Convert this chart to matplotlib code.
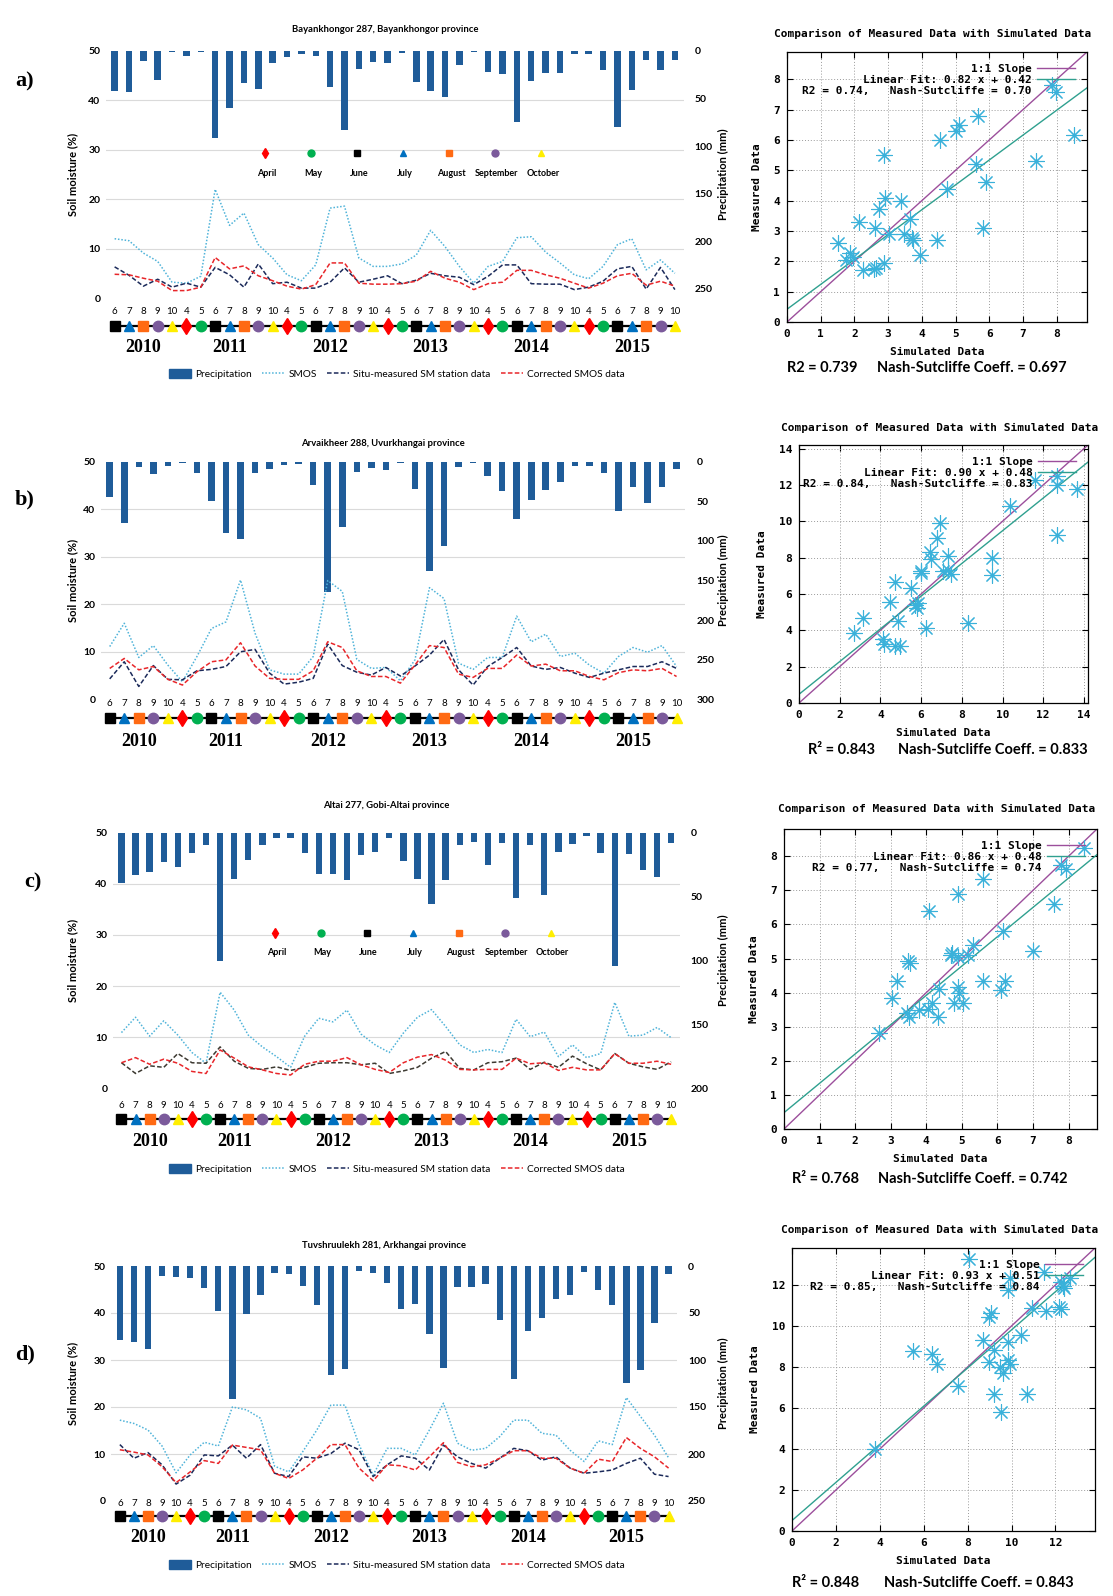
import numpy as np
import matplotlib
matplotlib.use("Agg")
import matplotlib.pyplot as plt
from matplotlib import transforms
from matplotlib.lines import Line2D
from matplotlib.patches import Patch

W, H = 1113, 1596

# ---- time axis: 2010 (Jun-Oct) + 2011..2015 (Apr-Oct) ----
months = [6, 7, 8, 9, 10] + [4, 5, 6, 7, 8, 9, 10] * 5
years = [2010, 2011, 2012, 2013, 2014, 2015]
year_of = [2010] * 5 + [y for y in years[1:] for _ in range(7)]
month_names = ["April", "May", "June", "July", "August", "September", "October"]

# ---- a) Bayankhongor 287 ----
precip_a = [42, 43, 10.5, 30, 1, 5.6, 1, 92, 60, 34, 40, 12.6, 6.3, 2.8, 5.6, 38, 83, 19, 11.6, 12.6,
            1.8, 32.6, 42.5, 48, 15, 0.7, 22, 24, 75, 32, 23.5, 23.5, 2.8, 3.5, 20, 80, 41, 9, 19.6, 9.8]
smos_a = [12.0, 11.6, 9.1, 7.4, 3.2, 3.0, 4.4, 22.0, 14.7, 17.2, 10.8, 8.1, 4.7, 3.5, 6.7, 18.2, 18.6, 8.1, 6.4, 6.4,
          6.9, 8.7, 13.7, 10.4, 6.4, 3.0, 6.4, 7.4, 12.2, 12.4, 9.3, 7.1, 4.7, 3.9, 6.4, 10.8, 12.0, 5.7, 7.7, 5.0]
situ_a = [6.3, 4.6, 2.4, 3.8, 2.2, 3.0, 2.2, 6.2, 4.7, 2.2, 6.9, 2.9, 3.2, 2.0, 2.0, 3.2, 6.1, 3.2, 3.8, 4.5,
          2.9, 3.6, 5.0, 4.5, 4.2, 2.7, 4.4, 6.7, 6.7, 2.9, 2.8, 2.8, 1.7, 2.2, 3.4, 5.9, 6.4, 1.8, 6.2, 1.7]
corr_a = [4.8, 4.7, 4.0, 3.4, 1.5, 1.5, 2.2, 8.2, 5.9, 6.5, 4.5, 3.5, 2.4, 1.8, 2.7, 7.1, 7.1, 3.0, 2.8, 2.8,
          2.9, 3.4, 5.4, 4.0, 3.2, 1.7, 2.9, 3.2, 5.6, 5.6, 4.7, 4.0, 3.0, 2.0, 3.0, 4.5, 5.0, 2.6, 3.4, 2.4]

# ---- b) Arvaikheer 288 ----
precip_b = [44, 77, 6.3, 16, 5, 2, 14, 50, 90, 98, 14, 9, 4, 3.4, 29.5, 165, 83, 12.6, 7.6, 10.5,
            1.3, 34.5, 138, 107, 6.3, 2, 17.7, 36.6, 72, 48, 36, 25, 5, 5, 14, 62, 32.4, 52, 31.6, 9]
smos_b = [11.1, 16.0, 8.8, 11.3, 7.2, 3.7, 9.0, 14.9, 16.3, 25.1, 13.9, 6.2, 5.3, 5.3, 9.0, 25.0, 22.7, 8.4, 6.5, 6.7,
          3.9, 8.3, 23.5, 21.2, 7.6, 6.3, 8.8, 8.8, 17.5, 12.1, 13.7, 9.0, 9.7, 7.2, 5.5, 9.0, 10.9, 9.9, 11.3, 6.9]
situ_b = [4.3, 7.9, 2.7, 7.1, 4.2, 4.1, 6.0, 6.3, 6.9, 10.0, 10.5, 5.5, 3.2, 3.6, 4.4, 11.6, 7.1, 5.7, 5.1, 6.7,
          4.9, 7.0, 9.3, 12.6, 6.2, 3.0, 6.9, 8.8, 10.9, 7.0, 6.3, 6.7, 5.5, 4.6, 5.5, 6.2, 6.9, 6.9, 7.9, 6.5]
corr_b = [6.5, 8.6, 6.2, 6.9, 4.2, 3.0, 5.8, 7.9, 8.3, 11.9, 7.0, 4.4, 4.2, 4.2, 6.0, 12.1, 10.9, 6.0, 4.8, 4.8,
          3.4, 7.2, 11.3, 10.9, 5.3, 4.6, 6.5, 6.5, 9.3, 7.0, 7.4, 6.0, 6.0, 4.8, 4.1, 5.6, 6.2, 6.0, 6.5, 4.8]

# ---- c) Altai 277 ----
precip_c = [39.6, 33, 30.5, 22.7, 27, 16, 9.6, 100, 36, 21.4, 10, 4, 4.4, 15.6, 32, 32, 37, 17.5, 15, 4,
            22, 36, 56, 37, 10, 7, 25, 7.8, 51, 10, 49, 15.4, 8.9, 2.6, 15.6, 104, 17, 29, 34.4, 8.3]
smos_c = [10.9, 13.9, 10.2, 13.2, 10.4, 7.0, 4.9, 18.8, 15.3, 10.4, 8.1, 6.2, 4.1, 10.2, 13.7, 13.0, 15.3, 10.6, 8.5, 7.0,
          10.8, 13.9, 15.4, 12.1, 8.5, 7.0, 7.6, 7.0, 13.5, 10.1, 11.0, 6.2, 8.5, 6.0, 6.8, 16.8, 10.2, 10.4, 11.9, 9.9]
situ_c = [5.0, 2.9, 4.4, 4.1, 6.8, 5.0, 4.9, 8.1, 5.3, 3.9, 3.7, 4.2, 3.5, 4.1, 4.9, 5.0, 5.0, 4.6, 4.9, 2.9,
          3.4, 4.1, 5.9, 7.2, 3.9, 3.6, 5.0, 5.2, 5.9, 3.7, 5.1, 4.1, 6.3, 4.8, 3.6, 6.8, 4.9, 4.2, 3.7, 5.2]
corr_c = [5.0, 6.0, 4.7, 5.7, 4.9, 3.3, 2.9, 7.5, 5.9, 4.2, 3.6, 2.9, 2.6, 4.7, 5.3, 5.3, 6.0, 4.6, 3.7, 3.1,
          5.0, 6.1, 6.6, 5.5, 3.7, 3.6, 3.7, 3.7, 5.9, 4.8, 5.0, 3.5, 4.1, 3.6, 3.6, 6.8, 4.9, 4.9, 5.3, 4.7]

# ---- d) Tuvshruulekh 281 ----
precip_d = [78.7, 80.5, 88, 10.3, 11.3, 13, 23, 48, 141, 51, 31, 7, 9, 21, 42, 116, 110, 5, 7, 18.4,
            46, 40, 72, 109, 22.7, 22, 19, 57, 120, 69, 55, 35, 31, 6.7, 26, 41, 124, 111, 61, 9]
smos_d = [17.2, 16.5, 15.1, 11.7, 6.0, 9.8, 12.5, 11.7, 20.0, 19.4, 17.6, 7.4, 6.2, 10.5, 15.1, 20.4, 20.4, 12.0, 5.5, 11.2,
          11.2, 9.8, 15.1, 20.8, 12.3, 10.8, 11.2, 13.7, 17.2, 17.2, 14.4, 14.0, 10.8, 8.4, 12.8, 12.0, 22.0, 18.0, 14.0, 9.2]
situ_d = [12.0, 9.1, 10.3, 7.7, 3.6, 5.5, 9.8, 9.6, 11.9, 9.1, 12.0, 5.9, 5.2, 9.4, 9.1, 10.1, 12.3, 10.9, 5.2, 7.7,
          9.6, 9.1, 6.6, 11.9, 9.4, 8.0, 7.0, 9.1, 11.2, 10.7, 8.7, 9.4, 7.0, 5.9, 6.2, 6.6, 8.0, 9.1, 5.7, 5.2]
corr_d = [10.9, 10.4, 9.8, 7.3, 3.9, 6.2, 8.6, 8.0, 11.9, 11.4, 10.9, 5.9, 4.8, 6.6, 9.1, 12.0, 12.0, 7.0, 4.3, 7.7,
          7.5, 6.6, 9.4, 12.4, 8.2, 7.3, 7.7, 9.1, 10.7, 10.7, 9.1, 9.1, 7.0, 5.9, 8.9, 8.4, 13.5, 11.2, 9.4, 7.0]

# ---- scatter data (simulated vs measured) ----
sim_a = [7.85, 8.5, 7.38, 5.9, 5.8, 5.6, 5.67, 5.1, 5.0, 4.55, 4.75, 2.87, 2.92, 3.39, 2.72, 3.66,
         2.13, 2.62, 3.02, 3.47, 3.71, 3.75, 4.46, 3.96, 1.51, 1.88, 1.95, 1.76, 2.25, 2.57, 2.65, 2.87]
meas_a = [7.8, 6.18, 5.3, 4.6, 3.1, 5.2, 6.8, 6.5, 6.3, 6.0, 4.37, 5.5, 4.1, 4.0, 3.72, 3.4,
          3.3, 3.1, 2.9, 2.9, 2.76, 2.7, 2.7, 2.21, 2.6, 2.27, 2.14, 2.03, 1.7, 1.74, 1.78, 1.94]
sim_b = [12.7, 11.6, 13.65, 12.67, 10.37, 9.46, 9.5, 8.3, 6.92, 6.8, 6.43, 6.5, 7.3, 7.08, 7.3, 7.49,
         6.0, 6.0, 5.5, 4.7, 4.49, 5.7, 5.79, 5.87, 6.24, 4.86, 3.14, 2.7, 4.12, 4.17, 4.73, 4.94]
meas_b = [12.5, 12.25, 11.8, 9.25, 10.87, 8.0, 7.05, 4.42, 9.9, 9.1, 8.3, 7.9, 8.1, 7.27, 7.3, 7.1,
          7.27, 7.13, 6.35, 6.68, 5.56, 5.38, 5.23, 5.52, 4.14, 4.5, 4.7, 3.87, 3.54, 3.22, 3.13, 3.13]
sim_c = [8.43, 7.78, 5.59, 4.88, 4.07, 7.58, 6.16, 6.99, 5.3, 5.16, 4.73, 4.69, 4.88, 3.48, 3.55, 3.17,
         3.05, 5.59, 6.2, 6.1, 4.88, 4.35, 4.93, 4.17, 4.78, 5.02, 3.79, 4.05, 3.45, 3.52, 4.34, 2.68]
meas_c = [8.23, 7.74, 7.32, 6.9, 6.4, 6.6, 5.82, 5.21, 5.41, 5.11, 5.16, 5.09, 5.06, 4.92, 4.87, 4.33,
          3.84, 4.33, 4.33, 4.08, 4.18, 4.1, 3.99, 3.69, 3.69, 3.71, 3.5, 3.52, 3.4, 3.3, 3.3, 2.81]
sim_d = [8.08, 11.46, 12.23, 12.68, 12.35, 9.91, 9.86, 10.93, 11.59, 12.15, 12.23, 9.05, 8.99, 10.43, 9.86,
         8.69, 9.21, 5.52, 6.36, 6.59, 8.99, 9.86, 9.91, 9.48, 9.63, 7.58, 9.21, 10.7, 9.51, 3.77]
meas_d = [13.27, 12.65, 12.16, 12.36, 11.95, 12.32, 11.75, 10.85, 10.72, 10.9, 10.82, 10.65, 10.44, 9.54, 9.21,
          9.3, 8.81, 8.77, 8.61, 8.12, 8.23, 8.36, 8.12, 8.02, 7.69, 7.09, 6.68, 6.68, 5.81, 4.01]

BAR = "#1f5c99"
SMOS_C = "#4fb3d9"
SITU_C = "#1b2a5a"
CORR_C = "#e8262a"
PURPLE = "#9c4f9c"
TEAL = "#2fa08f"
STAR = "#3ab1da"
MSTYLE = {4: ("d", "#ff0000"), 5: ("o", "#00b050"), 6: ("s", "#000000"), 7: ("^", "#0070c0"),
          8: ("s", "#ff6a13"), 9: ("o", "#7b5a9b"), 10: ("^", "#ffee00")}
MONO = dict(family="DejaVu Sans Mono", weight="bold", size=8)

plt.rcParams["font.family"] = ["Lato", "DejaVu Sans"]

fig = plt.figure(figsize=(W / 100, H / 100), dpi=100)


def fx(x):
    return x / W


def fy(y):
    return 1 - y / H


def rect(l, t, r, b):
    return [l / W, 1 - b / H, (r - l) / W, (b - t) / H]


def series_panel(box, title, title_y, precip, smos, situ, corr, pmax, pstep,
                 num_y, mark_y, year_y, situ_color=SITU_C, key=None, legend_y=None):
    l, t, r, b = box
    n = len(precip)
    x = np.arange(n)
    ax = fig.add_axes(rect(l, t, r, b))
    ax2 = ax.twinx()
    for v in (10, 20, 30, 40):
        ax2.axhline(pmax * (1 - v / 50), color="#dadada", lw=0.8, zorder=0)
    ax2.bar(x, precip, width=0.45, color=BAR, zorder=2)
    ax2.set_ylim(pmax, 0)
    ax.set_zorder(ax2.get_zorder() + 1)
    ax.patch.set_visible(False)

    ax.plot(x, smos, ls=(0, (1, 1.2)), color=SMOS_C, lw=1.1)
    ax.plot(x, situ, ls=(0, (3, 1.5)), color=situ_color, lw=1.1)
    ax.plot(x, corr, ls=(0, (3, 1.5)), color=CORR_C, lw=1.1)
    ax.set_xlim(-0.6, n - 0.4)
    ax.set_ylim(0, 50)
    ax.set_xticks([])
    ax.set_yticks(range(0, 51, 10), [str(v) for v in range(0, 51, 10)], fontweight="bold", fontsize=7.5)
    pt = list(range(0, int(pmax) + 1, pstep))
    ax2.set_yticks(pt, [str(v) for v in pt], fontweight="bold", fontsize=7.5)
    ax.tick_params(axis="y", length=0, pad=4)
    ax2.tick_params(axis="y", length=0, pad=8)
    for a in (ax, ax2):
        for s in a.spines.values():
            s.set_visible(False)
    ax.set_ylabel("Soil moisture (%)", fontsize=8, fontweight="bold")
    ax.yaxis.set_label_coords((78 - l) / (r - l), 0.5)
    ax2.set_ylabel("Precipitation (mm)", fontsize=8, fontweight="bold", rotation=90)
    ax2.yaxis.set_label_coords((718 - l) / (r - l), 0.5)

    fig.text(fx((l + r) / 2 - 10), fy(title_y), title, ha="center", va="center",
             fontsize=6.8, fontweight="bold")

    # month numbers, coloured month markers and years under the axis
    tr = transforms.blended_transform_factory(ax.transData, fig.transFigure)
    for xi, m in zip(x, months):
        ax.text(xi, fy(num_y), str(m), transform=tr, ha="center", va="center", fontsize=7)
    ax.plot(x, [fy(mark_y)] * n, color="k", lw=1.6, transform=tr, clip_on=False, zorder=5)
    for m, (mk, c) in MSTYLE.items():
        xs = [xi for xi, mm in zip(x, months) if mm == m]
        ax.plot(xs, [fy(mark_y)] * len(xs), ls="none", marker=mk, color=c, ms=7.5 if mk != "d" else 8,
                mec=c, transform=tr, clip_on=False, zorder=6)
    for yr in years:
        cx = np.mean([xi for xi, yy in zip(x, year_of) if yy == yr])
        ax.text(cx, fy(year_y), str(yr), transform=tr, ha="center", va="center",
                fontsize=13, fontweight="bold", family="Liberation Serif")

    if key is not None:
        kx, kdx, kmy, kty = key
        for i, (m, name) in enumerate(zip(range(4, 11), month_names)):
            mk, c = MSTYLE[m]
            fig.lines.append(Line2D([fx(kx + i * kdx)], [fy(kmy)], marker=mk, color=c, ms=5,
                                    ls="none", transform=fig.transFigure))
            fig.text(fx(kx + i * kdx + 2), fy(kty), name, ha="center", va="center",
                     fontsize=6.5, fontweight="bold")

    if legend_y is not None:
        handles = [Patch(color=BAR),
                   Line2D([], [], ls=(0, (1, 1.2)), color=SMOS_C, lw=1.1),
                   Line2D([], [], ls=(0, (3, 1.5)), color=SITU_C, lw=1.1),
                   Line2D([], [], ls=(0, (3, 1.5)), color=CORR_C, lw=1.1)]
        labels = ["Precipitation", "SMOS", "Situ-measured SM station data", "Corrected SMOS data"]
        fig.legend(handles, labels, loc="center", bbox_to_anchor=(fx(397), fy(legend_y)), ncol=4,
                   frameon=False, fontsize=7.3, handlelength=2.2, handleheight=0.9,
                   columnspacing=1.0, handletextpad=0.4)
    return ax


def scatter_panel(box, sim, meas, lim, ticks, slope, icpt, r2, ns, title_y,
                  stat_y, stat_x1, stat_x2, stat_r2, stat_ns):
    l, t, r, b = box
    ax = fig.add_axes(rect(l, t, r, b))
    line = np.array([0, lim])
    ax.plot(line, line, color=PURPLE, lw=1, label="1:1 Slope")
    ax.plot(line, slope * line + icpt, color=TEAL, lw=1,
            label=f"Linear Fit: {slope:.2f} x + {icpt:.2f}")
    ax.scatter(sim, meas, marker=(8, 2, 0), s=130, color=STAR, lw=0.8,
               label=f"R2 = {r2:.2f},   Nash-Sutcliffe = {ns:.2f}", zorder=3)
    ax.set_xlim(0, lim)
    ax.set_ylim(0, lim)
    ax.set_xticks(ticks, [str(v) for v in ticks], **MONO)
    ax.set_yticks(ticks, [str(v) for v in ticks], **MONO)
    ax.tick_params(direction="in", top=True, right=True, length=4, width=0.8, pad=5)
    ax.grid(True, ls=(0, (1, 2)), color="#9a9a9a", lw=0.7)
    for s in ax.spines.values():
        s.set_linewidth(0.9)
    ax.set_xlabel("Simulated Data", fontdict=MONO, labelpad=6)
    ax.set_ylabel("Measured Data", fontdict=MONO, labelpad=8)
    ax.legend(loc="upper right", markerfirst=False, frameon=False, prop=MONO,
              handlelength=3.4, labelspacing=0.1, borderaxespad=0.7, handletextpad=0.5,
              scatterpoints=1)
    fig.text(fx((l + r) / 2 - 4), fy(title_y), "Comparison of Measured Data with Simulated Data",
             ha="center", va="center", **MONO)
    fig.text(fx(stat_x1), fy(stat_y), stat_r2, ha="left", va="center", fontsize=10.5, fontweight="bold")
    fig.text(fx(stat_x2), fy(stat_y), stat_ns, ha="left", va="center", fontsize=10.5, fontweight="bold")
    return ax


# ---- left column: time series ----
series_panel((106, 51, 683.5, 298), "Bayankhongor 287, Bayankhongor province", 30,
             precip_a, smos_a, situ_a, corr_a, 260, 50, 312, 326, 348,
             key=(265, 46, 153, 173), legend_y=374)
series_panel((101, 461.7, 685.3, 699.3), "Arvaikheer 288, Uvurkhangai province", 443,
             precip_b, smos_b, situ_b, corr_b, 300, 50, 704, 718, 742)
series_panel((113, 832.7, 679.6, 1088.3), "Altai 277, Gobi-Altai province", 806,
             precip_c, smos_c, situ_c, corr_c, 200, 50, 1105, 1119, 1142, situ_color="#3d3a32",
             key=(274.6, 46, 933, 953), legend_y=1169)
series_panel((111.4, 1266, 677, 1501), "Tuvshruulekh 281, Arkhangai province", 1246,
             precip_d, smos_d, situ_d, corr_d, 250, 50, 1503, 1516, 1538, legend_y=1565)

# ---- right column: scatter comparisons ----
scatter_panel((787, 52, 1087, 322), sim_a, meas_a, 8.9, list(range(0, 9)), 0.82, 0.42, 0.74, 0.70,
              34, 368, 787, 877, "R2 = 0.739", "Nash-Sutcliffe Coeff. = 0.697")
scatter_panel((799, 445, 1088, 703), sim_b, meas_b, 14.2, list(range(0, 15, 2)), 0.90, 0.48, 0.84, 0.83,
              428, 750, 808, 898, "R² = 0.843", "Nash-Sutcliffe Coeff. = 0.833")
scatter_panel((784, 829, 1097, 1129), sim_c, meas_c, 8.8, list(range(0, 9)), 0.86, 0.48, 0.77, 0.74,
              809, 1179, 792, 878, "R² = 0.768", "Nash-Sutcliffe Coeff. = 0.742")
scatter_panel((792, 1248, 1095, 1531), sim_d, meas_d, 13.8, list(range(0, 13, 2)), 0.93, 0.51, 0.85, 0.84,
              1230, 1583, 792, 884, "R² = 0.848", "Nash-Sutcliffe Coeff. = 0.843")

for lab, (x, y) in zip(["a)", "b)", "c)", "d)"], [(25, 81), (25, 499), (33, 882), (25, 1354)]):
    fig.text(fx(x), fy(y), lab, ha="center", va="center", fontsize=16, fontweight="bold",
             family="Liberation Serif")

fig.savefig("out.png", dpi=100)
